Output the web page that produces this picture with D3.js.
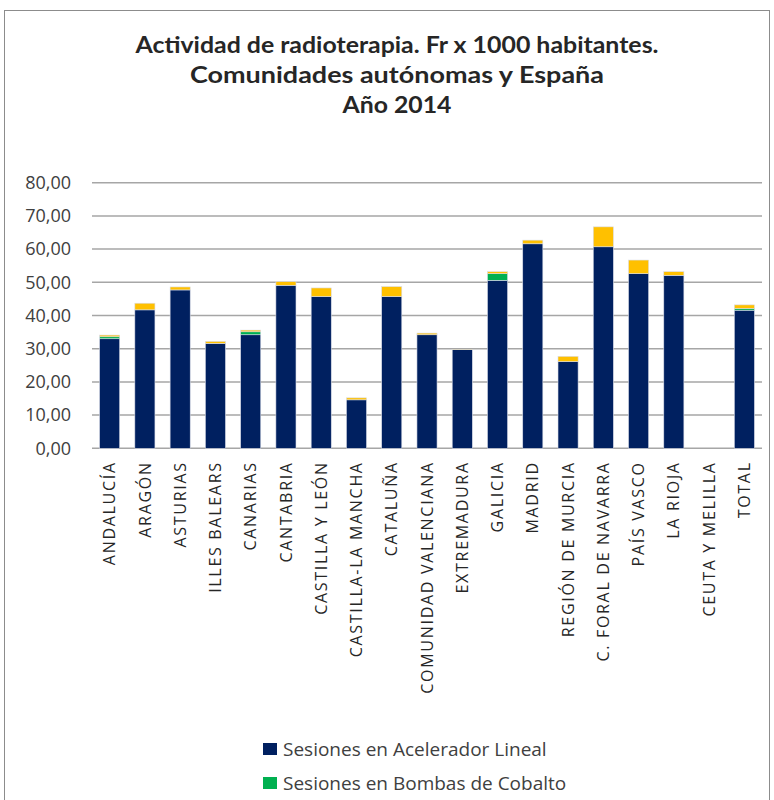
<!DOCTYPE html>
<html><head><meta charset="utf-8">
<script src="https://cdn.jsdelivr.net/npm/d3@7"></script>
<style>
body{margin:0;background:#fff;}
svg{display:block;}
</style></head>
<body>
<script>
const categories = ["ANDALUCÍA","ARAGÓN","ASTURIAS","ILLES BALEARS","CANARIAS","CANTABRIA","CASTILLA Y LEÓN","CASTILLA-LA MANCHA","CATALUÑA","COMUNIDAD VALENCIANA","EXTREMADURA","GALICIA","MADRID","REGIÓN DE MURCIA","C. FORAL DE NAVARRA","PAÍS VASCO","LA RIOJA","CEUTA Y MELILLA","TOTAL"];
const acelerador = [33.0,41.7,47.7,31.6,34.2,49.1,45.7,14.6,45.7,34.2,29.7,50.6,61.6,26.1,60.7,52.6,52.1,0,41.6];
const cobalto    = [0.6,0,0,0,0.9,0,0,0,0,0,0,2.0,0,0,0,0,0,0,0.5];
const otras      = [0.5,2.0,0.9,0.6,0.5,1.1,2.6,0.6,3.0,0.5,0.1,0.6,1.1,1.6,6.0,4.1,1.1,0,1.1];
const seriesNames = ["Sesiones en Acelerador Lineal","Sesiones en Bombas de Cobalto"];
const yTicks = [0,10,20,30,40,50,60,70,80];
const titleLines = ["Actividad de radioterapia. Fr x 1000 habitantes.","Comunidades autónomas y España","Año 2014"];

const colors = ["#002060","#00B050","#FFC000"];
const W = 774, H = 800;
const svg = d3.select("body").append("svg").attr("width", W).attr("height", H);

// frame
svg.append("rect").attr("x",4.5).attr("y",10.5).attr("width",765).attr("height",820)
  .attr("fill","#fff").attr("stroke","#8c8c8c").attr("stroke-width",1);

// title
const titleWidths = [523, 414, 109];
titleLines.forEach((t,i)=>{
  svg.append("text").attr("x",397).attr("y",53 + i*30)
    .attr("text-anchor","middle").attr("font-family","Lato, 'Open Sans', sans-serif")
    .attr("font-weight","bold").attr("font-size",22).attr("fill","#262626")
    .attr("textLength", titleWidths[i]).attr("lengthAdjust","spacingAndGlyphs")
    .text(t);
});

const x = d3.scaleBand().domain(categories).range([92,762]).paddingInner(0.43).paddingOuter(0.215);
const y = d3.scaleLinear().domain([0,80]).range([448.3,182.7]);

// grid
svg.append("g").selectAll("line").data(yTicks).join("line")
  .attr("x1",92).attr("x2",762).attr("y1",d=>y(d)).attr("y2",d=>y(d))
  .attr("stroke","#a6a6a6").attr("stroke-width",1.5);

// y axis labels
const yAxis = d3.axisLeft(y).tickValues(yTicks).tickSize(0).tickPadding(0)
  .tickFormat(d=>d3.format(".2f")(d).replace(".",","));
const ya = svg.append("g").attr("transform","translate(71,0)").call(yAxis);
ya.select(".domain").remove();
ya.selectAll("text").attr("font-family","'Open Sans', Lato, sans-serif").attr("font-size",18).attr("fill","#404040");

// stacked bars
const table = categories.map((c,i)=>({cat:c, a:acelerador[i], b:cobalto[i], c:otras[i]}));
const stack = d3.stack().keys(["a","b","c"])(table);
svg.append("g").selectAll("g").data(stack).join("g").attr("fill",(d,i)=>colors[i])
  .selectAll("rect").data(d=>d).join("rect")
  .attr("x",d=>x(d.data.cat)).attr("width",x.bandwidth())
  .attr("y",d=>y(d[1])).attr("height",d=>Math.max(0,y(d[0])-y(d[1])))
  .attr("stroke","#d9dde8").attr("stroke-width",0.6);

// x axis labels
const xAxis = d3.axisBottom(x).tickSize(0).tickPadding(0);
const xa = svg.append("g").attr("transform","translate(0,448.3)").call(xAxis);
xa.select(".domain").remove();
xa.selectAll("text")
  .attr("font-family","'Open Sans', Lato, sans-serif").attr("font-size",16).attr("fill","#262626")
  .attr("letter-spacing","1.7")
  .attr("transform","rotate(-90)").attr("text-anchor","end")
  .attr("x",-13).attr("y",0).attr("dy","0.35em");

// legend
const lg = svg.append("g");
seriesNames.forEach((n,i)=>{
  const yy = 743 + i*34;
  lg.append("rect").attr("x",263).attr("y",yy).attr("width",14).attr("height",12).attr("fill",colors[i]);
  lg.append("text").attr("x",283).attr("y",yy+13).attr("font-family","'Open Sans', Lato, sans-serif")
    .attr("font-size",19).attr("fill","#404040").text(n);
});
</script>
</body></html>
